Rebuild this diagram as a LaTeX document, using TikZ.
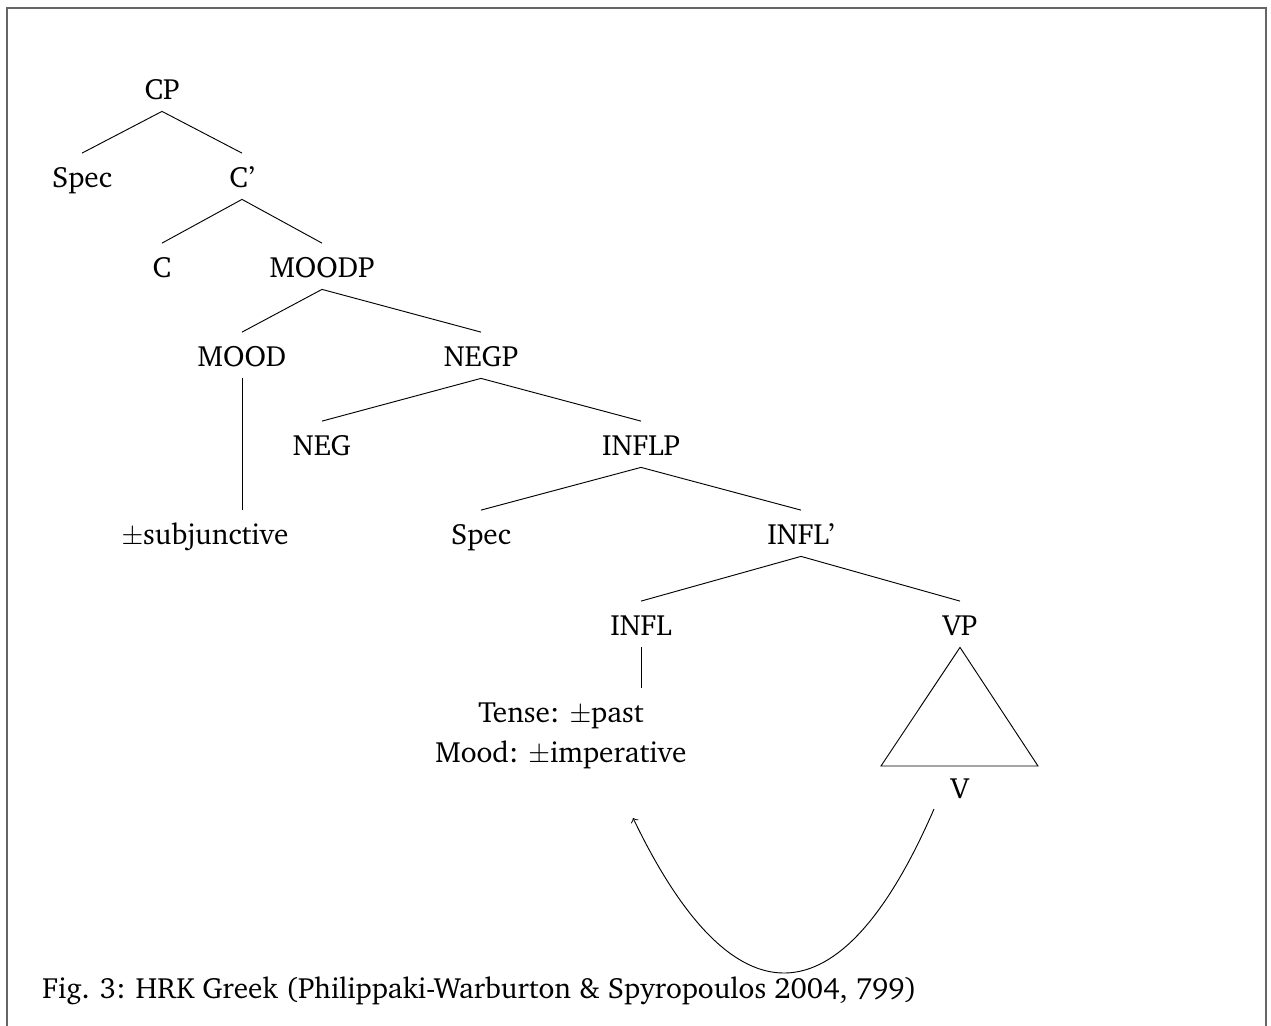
\documentclass[tikz,border=0pt]{standalone}
\usepackage[T1]{fontenc}
\usepackage{charter}
\usetikzlibrary{positioning}

\tikzset{
  treefont/.style={font=\fontsize{12.6}{15}\selectfont},
  cat/.style={treefont, anchor=base, inner sep=0pt, text height=14.8pt, text depth=4.7pt},
  frameline/.style={black!60, line width=0.9pt},
}

\begin{document}
\begin{tikzpicture}[x=0.43pt, y=-0.43pt]
\useasboundingbox (0,0) rectangle (1271,1026);
\draw[frameline] (7,1026) -- (7,8) -- (1266,8) -- (1266,1026);

% Define nodes
\node[cat] (cp) at (162,100) {CP};
\node[cat] (spec1) at (82,188) {Spec};
\node[cat] (cbar) at (242,188) {C'};
\node[cat] (c) at (162,278) {C};
\node[cat] (moodp) at (322,278) {MOODP};
\node[cat] (mood) at (242,367) {MOOD};
\node[cat] (negp) at (481,367) {NEGP};
\node[cat] (subj) at (205,545) {$\pm$subjunctive};
\node[cat] (neg) at (322,456) {NEG};
\node[cat] (inflp) at (641,456) {INFLP};
\node[cat] (spec2) at (481,545) {Spec};
\node[cat] (inflbar) at (801,545) {INFL'};
\node[cat] (infl) at (641,636) {INFL};
\node[cat] (vp) at (960,636) {VP};
\node[cat] (tense) at (561,723) {Tense: $\pm$past};
\node[cat] (moodval) at (561,762) {Mood: $\pm$imperative};
\node[cat] (v) at (960,799) {V};
\node[treefont, anchor=base west, inner sep=0pt] (caption) at (42,998)
  {Fig. 3: HRK Greek (Philippaki-Warburton \& Spyropoulos 2004, 799)};
\coordinate (vtrace) at (934,809);
\coordinate (landing) at (633,818);

% Edges
\draw (cp.south) -- (spec1.north);
\draw (cp.south) -- (cbar.north);
\draw (cbar.south) -- (c.north);
\draw (cbar.south) -- (moodp.north);
\draw (moodp.south) -- (mood.north);
\draw (moodp.south) -- (negp.north);
\draw (mood.south) -- (mood.south |- subj.north);
\draw (negp.south) -- (neg.north);
\draw (negp.south) -- (inflp.north);
\draw (inflp.south) -- (spec2.north);
\draw (inflp.south) -- (inflbar.north);
\draw (inflbar.south) -- (infl.north);
\draw (inflbar.south) -- (vp.north);
\draw (infl.south) -- (infl.south |- tense.north);

% VP triangle and movement
\draw (vp.south) -- (881,766) -- (1038,766) -- cycle;
\draw[->] (vtrace) .. controls (840,1026) and (733,1026) .. (landing);
\end{tikzpicture}
\end{document}
